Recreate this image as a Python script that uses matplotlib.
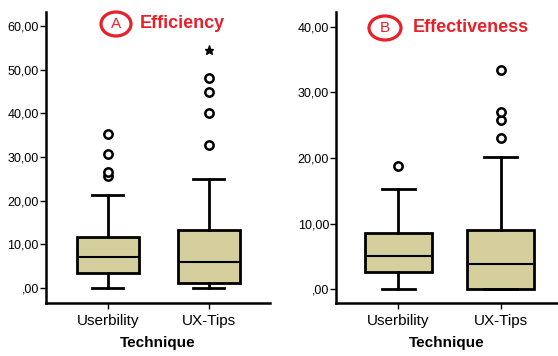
import matplotlib.pyplot as plt
from matplotlib.patches import Ellipse
from matplotlib.ticker import FuncFormatter

plt.rcParams['font.family'] = ['Liberation Sans', 'DejaVu Sans']

techniques = ['Userbility', 'UX-Tips']

# Efficiency (A)
eff_low = [0.0, 0.0]
eff_q1 = [3.4, 1.1]
eff_med = [7.2, 6.0]
eff_q3 = [11.7, 13.4]
eff_high = [21.4, 25.0]
eff_outliers = [[25.7, 26.7, 30.8, 35.3], [32.7, 40.0, 45.0, 48.0]]
eff_extremes = [[], [54.5]]

# Effectiveness (B)
effv_low = [0.0, 0.0]
effv_q1 = [2.6, 0.0]
effv_med = [5.1, 3.8]
effv_q3 = [8.5, 9.0]
effv_high = [15.3, 20.1]
effv_outliers = [[18.7], [23.1, 25.7, 27.0, 33.4]]
effv_extremes = [[], []]

BOX_COLOR = '#d4cf9c'
RED = '#e8202a'
W, H = 558, 356


def make_stats(low, q1, med, q3, high, outliers):
    return [dict(whislo=low[i], q1=q1[i], med=med[i], q3=q3[i], whishi=high[i],
                 fliers=outliers[i], label=techniques[i])
            for i in range(len(techniques))]


def draw_panel(ax, stats, extremes, ylim, yticks, xlim, width):
    ax.bxp(stats, positions=[1, 2], widths=width, capwidths=width * 0.5,
           patch_artist=True, showfliers=True,
           boxprops=dict(facecolor=BOX_COLOR, edgecolor='black', linewidth=2),
           whiskerprops=dict(color='black', linewidth=2),
           capprops=dict(color='black', linewidth=2),
           medianprops=dict(color='black', linewidth=1.5),
           flierprops=dict(marker='o', markerfacecolor='white', markeredgecolor='black',
                           markersize=6, markeredgewidth=1.8))
    for i, ext in enumerate(extremes):
        if ext:
            ax.plot([i + 1] * len(ext), ext, linestyle='none', marker='*',
                    color='black', markersize=6.5)
    ax.set_ylim(*ylim)
    ax.set_xlim(*xlim)
    ax.set_yticks(yticks)
    ax.yaxis.set_major_formatter(FuncFormatter(
        lambda v, p: ',00' if v == 0 else f'{v:.2f}'.replace('.', ',')))
    ax.spines['top'].set_visible(False)
    ax.spines['right'].set_visible(False)
    ax.spines['left'].set_linewidth(1.8)
    ax.spines['bottom'].set_linewidth(1.8)
    ax.tick_params(axis='y', length=4, width=1, labelsize=9, pad=1)
    ax.tick_params(axis='x', length=4, width=1, labelsize=11, pad=4)
    ax.set_xlabel('Technique', fontsize=11, fontweight='bold', labelpad=6)


def panel_title(fig, cx, cy, ew, eh, tx, letter, title):
    # circled letter + red title, positioned in figure pixels
    fig.patches.append(Ellipse((cx / W, 1 - cy / H), ew / W, eh / H,
                               transform=fig.transFigure, facecolor='white',
                               edgecolor=RED, linewidth=2.3))
    fig.text(cx / W, 1 - cy / H, letter, ha='center', va='center', color=RED, fontsize=11)
    fig.text(tx / W, 1 - cy / H, title, ha='left', va='center', color=RED,
             fontsize=13, fontweight='bold')


fig = plt.figure(figsize=(5.58, 3.56), dpi=100)
ax1 = fig.add_axes([0.082, 0.149, 0.401, 0.817])
ax2 = fig.add_axes([0.602, 0.149, 0.398, 0.817])

draw_panel(ax1, make_stats(eff_low, eff_q1, eff_med, eff_q3, eff_high, eff_outliers),
           eff_extremes, (-3.4, 63.2), [0, 10, 20, 30, 40, 50, 60], (0.386, 2.6), 0.61)
draw_panel(ax2, make_stats(effv_low, effv_q1, effv_med, effv_q3, effv_high, effv_outliers),
           effv_extremes, (-2.1, 42.2), [0, 10, 20, 30, 40], (0.39, 2.56), 0.65)

panel_title(fig, 116, 24, 30, 24, 140, 'A', 'Efficiency')
panel_title(fig, 385, 28, 32, 24, 413, 'B', 'Effectiveness')

fig.savefig('out.png', dpi=100)
